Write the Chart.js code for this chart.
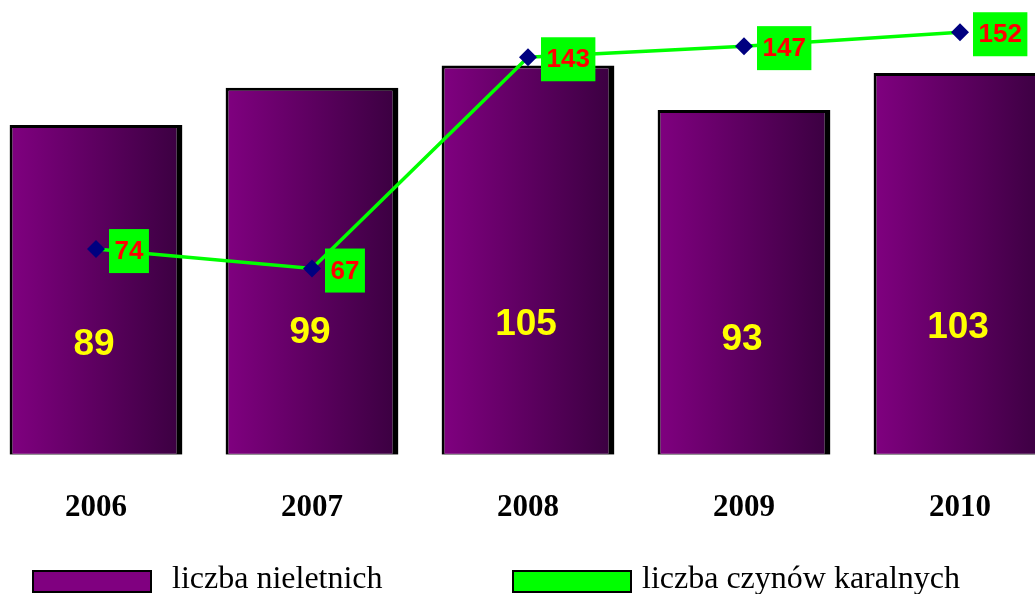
<!DOCTYPE html>
<html>
<head>
<meta charset="utf-8">
<script src="https://cdn.jsdelivr.net/npm/chart.js@4.4.1/dist/chart.umd.min.js"></script>
<style>
  html, body { margin: 0; padding: 0; background: #fff; overflow: hidden; }
  #wrap { position: absolute; left: -12px; top: 0; width: 1080px; height: 594px; }
  .lg-box { position: absolute; top: 570px; width: 116px; height: 19px; border: 2px solid #000; }
  .lg-txt { position: absolute; top: 558px; font-family: "Liberation Serif", "Times New Roman", serif;
            font-size: 32px; line-height: 38px; color: #000; white-space: nowrap; }
</style>
</head>
<body>
<div id="wrap"><canvas id="chart"></canvas></div>
<div class="lg-box" style="left:32px;background:#800080"></div>
<div class="lg-txt" style="left:172px">liczba nieletnich</div>
<div class="lg-box" style="left:512px;background:#00ff00"></div>
<div class="lg-txt" style="left:642px">liczba czynów karalnych</div>
<script>
var years = ['2006', '2007', '2008', '2009', '2010'];
var nieletni = [89, 99, 105, 93, 103];
var czyny = [74, 67, 143, 147, 152];

// gradient per bar, left light purple -> right dark
function barFill(ctx) {
  var chart = ctx.chart;
  var xs = chart.scales.x;
  if (!xs || ctx.dataIndex === undefined) return '#800080';
  var cx = xs.getPixelForValue(ctx.dataIndex);
  var half = xs.width / years.length * 0.8 / 2;
  if (!isFinite(cx) || !isFinite(half) || half <= 0) return '#800080';
  var g = chart.ctx.createLinearGradient(cx - half, 0, cx + half, 0);
  g.addColorStop(0, '#800080');
  g.addColorStop(1, '#3a0040');
  return g;
}

var labelPlugin = {
  id: 'valueLabels',
  afterDatasetsDraw: function(chart) {
    var c = chart.ctx;
    c.save();
    // yellow numbers in the bars
    var bars = chart.getDatasetMeta(0).data;
    c.font = 'bold 37px "Liberation Sans", Arial, sans-serif';
    c.fillStyle = '#ffff00';
    c.textAlign = 'center';
    c.textBaseline = 'middle';
    bars.forEach(function(b, i) {
      var y = b.base - (b.base - b.y) / 3;
      c.fillText(String(nieletni[i]), b.x - 2, y);
    });
    // green boxes with red numbers next to the line points
    var pts = chart.getDatasetMeta(1).data;
    c.font = 'bold 26px "Liberation Sans", Arial, sans-serif';
    pts.forEach(function(p, i) {
      var txt = String(czyny[i]);
      var w = c.measureText(txt).width + 11;
      var x0 = p.x + 13;
      c.fillStyle = '#00ff00';
      c.fillRect(x0, p.y - 20, w, 44);
      c.fillStyle = '#ff0000';
      c.fillText(txt, x0 + w / 2, p.y + 3);
    });
    c.restore();
  }
};

var chart = new Chart(document.getElementById('chart'), {
  data: {
    labels: years,
    datasets: [
      {
        type: 'bar',
        label: 'liczba nieletnich',
        data: nieletni,
        yAxisID: 'yBar',
        order: 2,
        backgroundColor: barFill,
        borderColor: '#000',
        borderWidth: { left: 3, top: 3, right: 6, bottom: 1 },
        borderSkipped: false,
        barPercentage: 0.8,
        categoryPercentage: 1
      },
      {
        type: 'line',
        label: 'liczba czynów karalnych',
        data: czyny,
        yAxisID: 'yLine',
        order: 1,
        borderColor: '#00ff00',
        borderWidth: 3.5,
        pointStyle: 'rectRot',
        pointRadius: 9,
        pointBackgroundColor: '#000080',
        pointBorderColor: '#000080',
        pointBorderWidth: 0,
        tension: 0
      }
    ]
  },
  options: {
    responsive: true,
    maintainAspectRatio: false,
    animation: false,
    layout: { autoPadding: false, padding: { top: 10, bottom: 32, left: 0, right: 0 } },
    plugins: { legend: { display: false }, tooltip: { enabled: false } },
    scales: {
      x: {
        grid: { display: false, drawTicks: false },
        border: { display: false },
        ticks: {
          color: '#000',
          padding: 35,
          font: { family: '"Liberation Serif", "Times New Roman", serif', size: 31, weight: 'bold' }
        }
      },
      yBar: { display: false, min: 0, max: 120 },
      yLine: { display: false, min: 0, max: 160 }
    }
  },
  plugins: [labelPlugin]
});
// re-run so the gradient sees the laid-out scale
chart.update();
</script>
</body>
</html>
